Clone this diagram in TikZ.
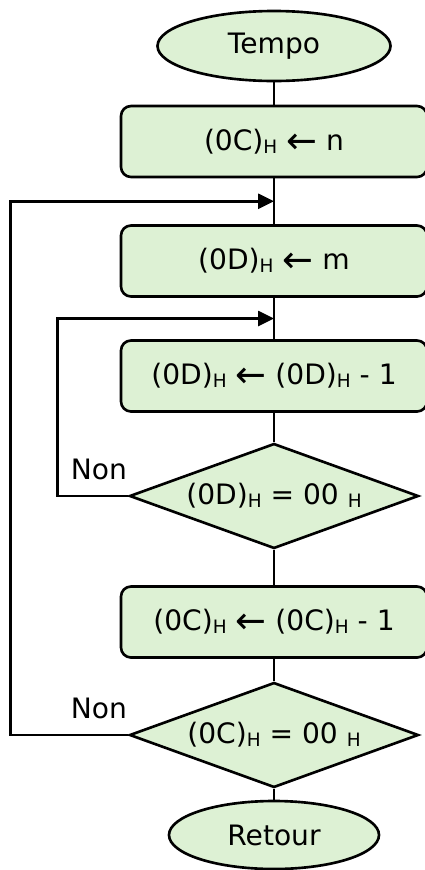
\documentclass[tikz,border=0pt]{standalone}
\usepackage{fontspec}
\setmainfont{DejaVu Sans}
\usepackage{xcolor}
\usetikzlibrary{arrows.meta,positioning,calc,shapes.geometric}
\definecolor{boxgreen}{RGB}{221,241,212}
\newcommand{\hexs}{\raisebox{-1.8pt}{\fontsize{10.5}{10.5}\selectfont H}}
\newcommand{\getsarr}{\raisebox{-1.6pt}{\fontsize{21}{21}\selectfont ←}}

\begin{document}
\begin{tikzpicture}[every node/.style={font=\fontsize{16}{19}\selectfont}, >={Triangle[length=0.32cm,width=0.3cm]}, line width=1.5pt,
  term/.style={draw, ellipse, fill=boxgreen},
  proc/.style={draw, rounded corners=0.2cm, fill=boxgreen, minimum width=6.12cm, minimum height=1.42cm},
  test/.style={draw, diamond, fill=boxgreen, aspect=2.75, inner sep=0pt, minimum width=5.78cm, minimum height=2.1cm}]
\useasboundingbox (0,0) rectangle (8.5,-17.4);
\node[term, minimum width=4.66cm, minimum height=1.4cm] (tempo) at (5.48,-0.92) {Tempo};
\node[proc] (c1) at (5.48,-2.83) {(0C)\hexs{} \getsarr{} n};
\node[proc] (d1) at (5.48,-5.22) {(0D)\hexs{} \getsarr{} m};
\node[proc] (d2) at (5.48,-7.52) {(0D)\hexs{} \getsarr{} (0D)\hexs{} - 1};
\node[test] (dz) at (5.48,-9.92) {(0D)\hexs{} = 00 \hexs\hspace{0.6cm}};
\node[proc] (c2) at (5.48,-12.44) {(0C)\hexs{} \getsarr{} (0C)\hexs{} - 1};
\node[test] (cz) at (5.48,-14.7) {(0C)\hexs{} = 00 \hexs\hspace{0.6cm}};
\node[term, minimum width=4.2cm, minimum height=1.36cm] (retour) at (5.48,-16.7) {Retour};
\node[above left=0.3cm and 0cm of dz.west, inner sep=0pt] (non1) {Non};
\node[above left=0.3cm and 0cm of cz.west, inner sep=0pt] (non2) {Non};
% junctions of the two loops
\coordinate (j1) at ($(c1.south)!0.5!(d1.north)$);
\coordinate (j2) at ($(d1.south)!0.5!(d2.north)$);
\draw (tempo) -- (c1);
\draw (c1) -- (d1);
\draw (d1) -- (d2);
\draw (d2) -- (dz);
\draw (dz) -- (c2);
\draw (c2) -- (cz);
\draw (cz) -- (retour);
\draw[->] (dz.west) -- ++(-1.41,0) |- (j2);
\draw[->] (cz.west) -- ++(-2.35,0) |- (j1);
\end{tikzpicture}
\end{document}
